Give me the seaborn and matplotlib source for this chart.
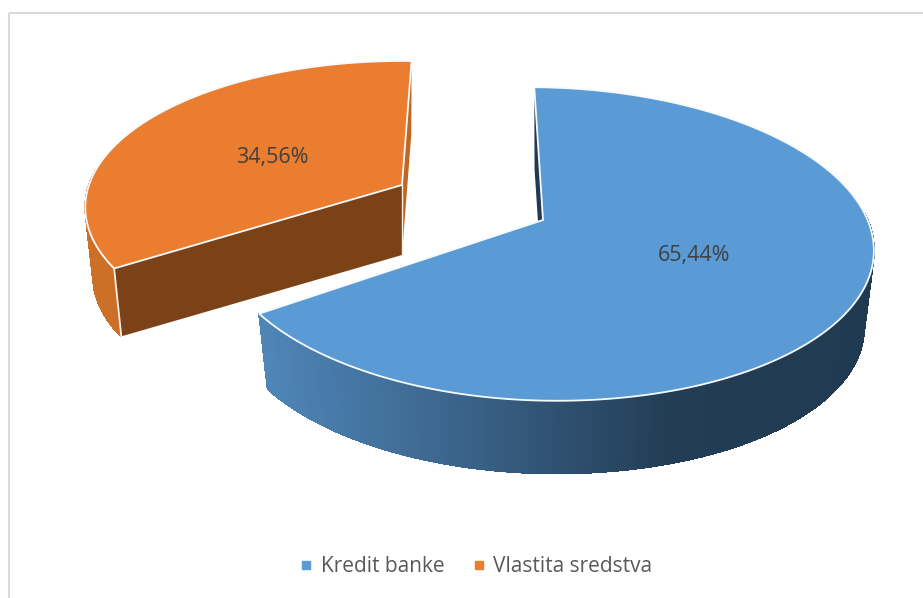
import numpy as np
import seaborn as sns
import matplotlib.pyplot as plt
from matplotlib.lines import Line2D
from matplotlib.patches import Polygon

categories = ['Kredit banke', 'Vlastita sredstva']
shares = [65.44, 34.56]
share_labels = ['65,44%', '34,56%']
top_colors = ['#5B9BD5', '#EB7D30']

sns.set_theme(style='white')
plt.rcParams['font.family'] = ['Open Sans', 'DejaVu Sans']

W, H = 923, 598
fig = plt.figure(figsize=(W / 100, H / 100), dpi=100)
ax = fig.add_axes([0, 0, 1, 1])
ax.set_xlim(0, W)
ax.set_ylim(H, 0)
ax.axis('off')

# geometry of each exploded slice, in pixels
K = 0.153
geo = [
    dict(ax=543, ay=220, A=327, A_left=320, B=153, start=-1.8, depth=78, s=0.97, shear=0.02),
    dict(ax=402, ay=185, A=313, A_left=313, B=143, start=237.6, depth=70, s=0.975, shear=0.0),
]
wall_colors = [['#4F86B8', '#3A6288', '#223D55', '#203A51'], ['#CC7028', '#BF6822']]
cut_colors = ['#1F3A52', '#7C4217']


def project(g, theta, lower=False):
    t = np.radians(theta)
    x, y = np.sin(t), np.cos(t)
    a = g['A'] if x >= 0 else g['A_left']
    px = a * x / (1 + K * y)
    py = -g['B'] * y / (1 + K * y) + g['shear'] * a * x / (1 + K * y)
    if lower:
        return g['ax'] + g['s'] * px, g['ay'] + g['depth'] + g['s'] * py
    return g['ax'] + px, g['ay'] + py


def poly(pts, **kw):
    ax.add_patch(Polygon(np.asarray(pts), closed=True, **kw))


# border
ax.plot([9, 9], [H, 13], color='#D9D9D9', lw=1.5, solid_capstyle='butt')
ax.plot([9, W], [13, 13], color='#D9D9D9', lw=1.5, solid_capstyle='butt')

for i, g in enumerate(geo):
    sweep = shares[i] * 3.6
    end = g['start'] + sweep
    th = np.linspace(g['start'], end, 240)
    apex = (g['ax'], g['ay'])
    low_apex = (g['ax'], g['ay'] + g['depth'])

    # outer wall, coloured left to right, front part only
    xs = np.array([project(g, a)[0] for a in th])
    pal = sns.blend_palette(wall_colors[i], 256)
    x0, x1 = xs.min(), xs.max()
    for a, b in zip(th[:-1], th[1:]):
        if np.cos(np.radians(a)) > 0.1:
            continue
        xm = project(g, (a + b) / 2)[0]
        c = pal[int((xm - x0) / (x1 - x0) * 255)]
        poly([project(g, a), project(g, b), project(g, b, True), project(g, a, True)],
             facecolor=c, edgecolor=c, lw=0.8, antialiased=False, zorder=2 + i * 10)

    # cut faces
    start_cut = [apex, project(g, g['start']), project(g, g['start'], True), low_apex]
    end_cut = [apex, project(g, end), project(g, end, True), low_apex]
    if i == 0:
        poly(start_cut, facecolor=cut_colors[0], edgecolor='none', zorder=3)
    else:
        poly(end_cut, facecolor=wall_colors[1][1], edgecolor='none', zorder=13)
        poly(start_cut, facecolor=cut_colors[1], edgecolor='none', zorder=13)
        c0, c1 = project(g, g['start']), project(g, g['start'], True)
        ax.plot([c0[0], c1[0]], [c0[1], c1[1]], color='#FBEFE6', lw=1.3, zorder=14)
        ax.plot([apex[0], low_apex[0]], [apex[1], low_apex[1]], color='#FBEFE6', lw=1.0, zorder=14)

    # top face
    rim = [project(g, a) for a in th]
    poly([apex] + rim, facecolor=top_colors[i], edgecolor='#F7FAFD', lw=1.3, joinstyle='miter',
         zorder=5 + i * 10)

ax.text(694, 256, share_labels[0], ha='center', va='center', fontsize=15.5, color='#404040', zorder=30)
ax.text(272, 157, share_labels[1], ha='center', va='center', fontsize=15.5, color='#404040', zorder=30)

handles = [Line2D([], [], linestyle='none', marker='s', markersize=5.8, color=c) for c in top_colors]
ax.legend(handles, categories, loc='center', bbox_to_anchor=(474 / W, 1 - 567 / H), ncol=2, frameon=False,
          fontsize=15, labelcolor='#595959', handlelength=1, handletextpad=0.2, columnspacing=1.14)

fig.savefig('out.png', dpi=100)
